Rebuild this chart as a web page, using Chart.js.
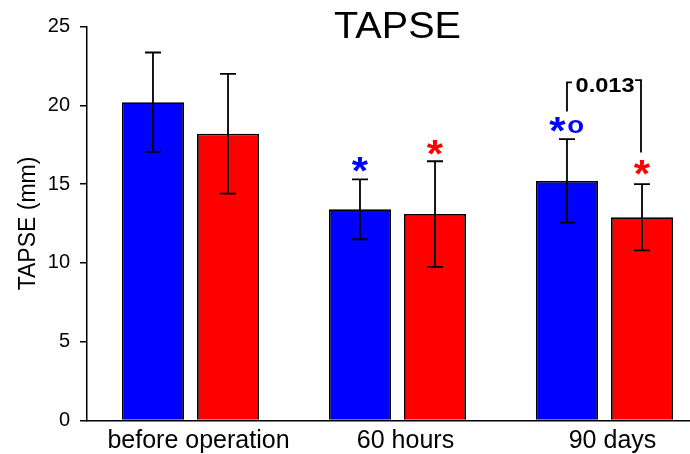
<!DOCTYPE html>
<html>
<head>
<meta charset="utf-8">
<script src="https://cdn.jsdelivr.net/npm/chart.js@4.4.1/dist/chart.umd.min.js"></script>
<style>
  html, body { margin: 0; padding: 0; background: #fff; overflow: hidden; }
  #wrap { width: 690px; height: 454px; overflow: hidden; position: relative; }
  #c { position: absolute; left: 0; top: 0; }
</style>
</head>
<body>
<div id="wrap"><canvas id="c" width="708" height="454"></canvas></div>
<script>
// ---- data ----
const chartTitle = 'TAPSE';
const yAxisTitle = 'TAPSE (mm)';
const categories = ['before operation', '60 hours', '90 days'];
const blueMeans = [20.2, 13.4, 15.2];
const blueSD = [3.15, 1.9, 2.65];
const redMeans = [18.2, 13.1, 12.9];
const redSD = [3.8, 3.35, 2.1];
const yTicks = [0, 5, 10, 15, 20, 25];

// significance asterisks: dataset index, category index, y value
const starDataset = [0, 1, 0, 1];
const starCategory = [1, 1, 2, 2];
const starValue = [16.25, 17.35, 18.8, 16.05];
// circle marker (vs. other group) on blue 90 days
const circleDataset = 0;
const circleCategory = 2;
const circleValue = 18.65;
// bracket between blue and red at 90 days with p value
const bracketCategory = 2;
const bracketLeftTop = 21.45;
const bracketLeftBottom = 19.6;
const bracketRightTop = 21.6;
const bracketRightBottom = 17.0;
const bracketLabel = '0.013';

const FONT = "'Liberation Sans', Arial, sans-serif";
const BLUE = '#0000FF';
const RED = '#FF0000';

function drawCenteredGlyph(ctx, text, cx, cy, sx) {
  sx = sx || 1;
  const m = ctx.measureText(text);
  const w = m.actualBoundingBoxLeft + m.actualBoundingBoxRight;
  const h = m.actualBoundingBoxAscent + m.actualBoundingBoxDescent;
  ctx.save();
  ctx.translate(cx, cy);
  ctx.scale(sx, 1);
  ctx.textAlign = 'left';
  ctx.textBaseline = 'alphabetic';
  ctx.fillText(text, -w / 2 + m.actualBoundingBoxLeft, -h / 2 + m.actualBoundingBoxAscent);
  ctx.restore();
}

const overlay = {
  id: 'overlay',
  afterDatasetsDraw(chart) {
    const ctx = chart.ctx;
    const y = chart.scales.y;
    ctx.save();
    ctx.strokeStyle = '#000';
    ctx.lineWidth = 1.8;
    ctx.lineCap = 'butt';
    [blueSD, redSD].forEach((sd, di) => {
      const meta = chart.getDatasetMeta(di);
      meta.data.forEach((bar, i) => {
        const mean = chart.data.datasets[di].data[i];
        const yt = y.getPixelForValue(mean + sd[i]);
        const yb = y.getPixelForValue(mean - sd[i]);
        const x = bar.x;
        ctx.beginPath();
        ctx.moveTo(x, yt); ctx.lineTo(x, yb);
        ctx.moveTo(x - 8, yt); ctx.lineTo(x + 8, yt);
        ctx.moveTo(x - 8, yb); ctx.lineTo(x + 8, yb);
        ctx.stroke();
      });
    });

    // asterisks
    ctx.font = 'bold 38px ' + FONT;
    starDataset.forEach((di, k) => {
      const bar = chart.getDatasetMeta(di).data[starCategory[k]];
      ctx.fillStyle = di === 0 ? BLUE : RED;
      let cx = bar.x;
      if (di === circleDataset && starCategory[k] === circleCategory) cx -= 9.5;
      drawCenteredGlyph(ctx, '*', cx, y.getPixelForValue(starValue[k]), 1.1);
    });
    // circle
    ctx.font = 'bold 23px ' + FONT;
    ctx.fillStyle = BLUE;
    const cbar = chart.getDatasetMeta(circleDataset).data[circleCategory];
    drawCenteredGlyph(ctx, 'o', cbar.x + 8.6, y.getPixelForValue(circleValue), 1.2);

    // bracket
    const lb = chart.getDatasetMeta(0).data[bracketCategory];
    const rb = chart.getDatasetMeta(1).data[bracketCategory];
    const lx = lb.x, rx = rb.x - 1;
    const lyt = y.getPixelForValue(bracketLeftTop), lyb = y.getPixelForValue(bracketLeftBottom);
    const ryt = y.getPixelForValue(bracketRightTop), ryb = y.getPixelForValue(bracketRightBottom);
    ctx.beginPath();
    ctx.moveTo(lx, lyb); ctx.lineTo(lx, lyt); ctx.lineTo(lx + 5, lyt);
    ctx.moveTo(rx, ryb); ctx.lineTo(rx, ryt); ctx.lineTo(rx - 6, ryt);
    ctx.stroke();
    ctx.fillStyle = '#000';
    ctx.font = 'bold 20px ' + FONT;
    drawCenteredGlyph(ctx, bracketLabel, (lx + rx) / 2 + 1, (lyt + ryt) / 2 + 4, 1.18);
    ctx.restore();
  },
  afterDraw(chart) {
    const ctx = chart.ctx;
    const a = chart.chartArea;
    ctx.save();
    ctx.fillStyle = '#000';
    ctx.font = '36px ' + FONT;
    ctx.textAlign = 'center';
    ctx.textBaseline = 'alphabetic';
    ctx.translate((a.left + a.right) / 2, a.top + 11);
    ctx.scale(1.1, 1);
    ctx.fillText(chartTitle, 0, 0);
    ctx.restore();
  }
};

new Chart(document.getElementById('c'), {
  type: 'bar',
  data: {
    labels: categories,
    datasets: [
      { data: blueMeans, backgroundColor: BLUE, borderColor: '#000', borderWidth: 1.8,
        categoryPercentage: 0.725, barPercentage: 0.827 },
      { data: redMeans, backgroundColor: RED, borderColor: '#000', borderWidth: 1.8,
        categoryPercentage: 0.725, barPercentage: 0.827 }
    ]
  },
  options: {
    responsive: false,
    animation: false,
    devicePixelRatio: 1,
    layout: { padding: { top: 26.5, right: 0, bottom: 0, left: 0 } },
    plugins: { legend: { display: false }, tooltip: { enabled: false }, title: { display: false } },
    scales: {
      x: {
        grid: { display: false, drawTicks: false },
        border: { display: true, color: '#000', width: 1.5 },
        ticks: { font: { family: FONT, size: 25, lineHeight: 1 }, color: '#000', padding: 8,
                 labelOffset: 8, maxRotation: 0, autoSkip: false },
        afterFit(s) { s.height = 33.5; }
      },
      y: {
        min: 0, max: 25,
        afterBuildTicks(s) { s.ticks = yTicks.map(v => ({ value: v })); },
        grid: { drawOnChartArea: false, drawTicks: true, tickLength: 7, color: '#000', lineWidth: 1.5 },
        border: { display: true, color: '#000', width: 1.5 },
        ticks: { font: { family: FONT, size: 20, lineHeight: 1.2 }, color: '#000', padding: 10 },
        title: { display: true, text: yAxisTitle, color: '#000',
                 font: { family: FONT, size: 23, lineHeight: 1 }, padding: { top: 17, bottom: 8 } },
        afterFit(s) { s.width = 87; }
      }
    }
  },
  plugins: [overlay]
});
</script>
</body>
</html>
